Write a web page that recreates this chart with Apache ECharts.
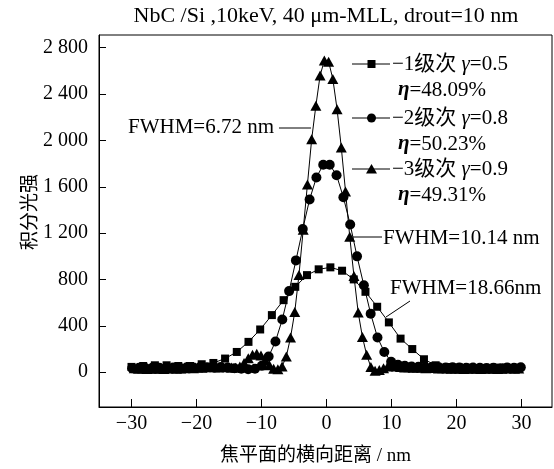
<!DOCTYPE html>
<html>
<head>
<meta charset="utf-8">
<script src="https://cdn.jsdelivr.net/npm/echarts@6/dist/echarts.min.js"></script>
<style>
  html, body { margin: 0; padding: 0; background: #fff; }
  #chart { width: 554px; height: 469px; }
</style>
</head>
<body>
<div id="chart"></div>
<script>
// -1 order (squares)
const sqX = [-30, -28.2, -26.4, -24.6, -22.8, -21, -19.2, -17.4, -15.6, -13.8, -12, -10.2, -8.4, -6.6, -4.8, -3, -1.2,
  0.6, 2.4, 4.2, 6, 7.8, 9.6, 11.4, 13.2, 15, 16.8, 18.6, 20.4, 22.2, 24, 25.8, 27.6, 29.4]
const sqY = [46, 54, 60, 60, 54, 54, 69, 80, 118, 175, 262, 369, 493, 622, 737, 838, 888,
  905, 876, 801, 694, 565, 430, 290, 200, 112, 60, 45, 42, 40, 38, 40, 42, 40]

// -2 order (circles)
const ciX = [-29.9, -28.85, -27.8, -26.75, -25.7, -24.65, -23.6, -22.55, -21.5, -20.45, -19.4, -18.35, -17.3, -16.25,
  -15.2, -14.15, -13.1, -12.05, -11, -9.95, -8.9, -7.85, -6.8, -5.75, -4.7, -3.65, -2.6, -1.55, -0.5,
  0.5, 1.55, 2.6, 3.65, 4.7, 5.75, 6.8, 7.85, 8.9, 9.95, 11, 12.05, 13.1, 14.15, 15.2, 16.25, 17.3, 18.35,
  19.4, 20.45, 21.5, 22.55, 23.6, 24.65, 25.7, 26.75, 27.8, 28.85, 29.9]
const ciY = [35, 38, 35, 40, 38, 36, 40, 38, 42, 40, 45, 42, 40, 45,
  40, 35, 30, 25, 30, 55, 135, 265, 455, 700, 965, 1235, 1490, 1680, 1790,
  1790, 1700, 1510, 1275, 1000, 750, 505, 300, 175, 90, 65, 55, 50, 48, 45, 45, 42, 40,
  42, 40, 38, 40, 38, 36, 38, 35, 40, 38, 42]

// -3 order (triangles)
const trX = [-29.58, -28.93, -28.28, -27.63, -26.98, -26.33, -25.68, -25.03, -24.38, -23.73, -23.08, -22.43,
  -21.78, -21.13, -20.48, -19.83, -19.18, -18.53, -17.88, -17.23, -16.58, -15.93, -15.28, -14.63,
  -13.98, -13.33, -12.68, -12.03, -11.38, -10.73, -10.08, -9.43, -8.78, -8.13, -7.48, -6.83,
  -6.18, -5.53, -4.88, -4.23, -3.58, -2.93, -2.28, -1.63, -0.98, -0.33,
  0.33, 0.98, 1.63, 2.28, 2.93, 3.58, 4.23, 4.88, 5.53, 6.18, 6.83, 7.48,
  8.13, 8.78, 9.43, 10.08, 10.73, 11.38, 12.03, 12.68, 13.33, 13.98,
  14.63, 15.28, 15.93, 16.58, 17.23, 17.88, 18.53, 19.18, 19.83, 20.48, 21.13, 21.78,
  22.43, 23.08, 23.73, 24.38, 25.03, 25.68, 26.33, 26.98, 27.63, 28.28, 28.93, 29.58]
const trY = [35, 30, 32, 28, 30, 33, 30, 28, 32, 35, 30, 33,
  35, 38, 35, 40, 38, 42, 45, 42, 40, 45, 42, 40,
  38, 50, 80, 120, 150, 160, 145, 105, 60, 30, 25, 50,
  135, 300, 520, 840, 1230, 1620, 2010, 2300, 2560, 2690,
  2680, 2530, 2270, 1940, 1560, 1170, 830, 515, 305, 150, 45, 12,
  20, 35, 50, 55, 50, 45, 40, 42, 38, 40,
  38, 35, 40, 36, 33, 35, 32, 30, 33, 30, 28, 30,
  32, 30, 28, 30, 33, 30, 28, 30, 32, 35, 30, 33]

const xTicks = [-30, -20, -10, 0, 10, 20, 30]
const yTicks = [0, 400, 800, 1200, 1600, 2000, 2400, 2800]

const legendRows = [
  { name: '−1级次', gamma: '0.5', eta: '48.09%' },
  { name: '−2级次', gamma: '0.8', eta: '50.23%' },
  { name: '−3级次', gamma: '0.9', eta: '49.31%' },
]

const serif = '"Liberation Serif", "Noto Sans CJK SC", serif'
const zip = (xs, ys) => xs.map((x, i) => [x, ys[i]])

const fmtY = (v) => v >= 1000 ? Math.floor(v / 1000) + ' ' + String(v % 1000).padStart(3, '0') : String(v)
const fmtX = (v) => String(v).replace('-', '−')

const lineSeries = (data, symbol, size) => ({
  type: 'line',
  data,
  symbol,
  symbolSize: size,
  showAllSymbol: true,
  lineStyle: { color: '#000', width: 1 },
  itemStyle: { color: '#000' },
  animation: false,
})

// legend + annotations drawn as graphics
const legendY = [64, 118, 169]
const legendMarks = [
  { type: 'rect', shape: { x: 367.5, y: 60, width: 8, height: 8 } },
  { type: 'circle', shape: { cx: 371.5, cy: 118, r: 4.5 } },
  { type: 'polygon', shape: { points: [[371.5, 164], [366, 173.5], [377, 173.5]] } },
]
const graphics = [
  {
    type: 'text', x: 326, y: 16,
    style: { text: 'NbC /Si ,10keV, 40 μm-MLL, drout=10 nm', font: '22px ' + serif, fill: '#000', align: 'center', verticalAlign: 'middle' },
  },
]
legendRows.forEach((r, i) => {
  const y = legendY[i]
  graphics.push({ type: 'line', shape: { x1: 352, y1: y, x2: 390, y2: y }, style: { stroke: '#000', lineWidth: 1 } })
  graphics.push(Object.assign({}, legendMarks[i], { style: { fill: '#000' } }))
  graphics.push({
    type: 'text', x: 392, y: y,
    style: {
      text: '{a|' + r.name + ' }{g|γ}{a|=' + r.gamma + '}',
      verticalAlign: 'middle',
      rich: {
        a: { font: '21px ' + serif, fill: '#000' },
        g: { font: 'italic 21px ' + serif, fill: '#000' },
      },
    },
  })
  graphics.push({
    type: 'text', x: 398, y: y + 26,
    style: {
      text: '{g|η}{a|=' + r.eta + '}',
      verticalAlign: 'middle',
      rich: {
        a: { font: '21px ' + serif, fill: '#000' },
        g: { font: 'italic bold 21px ' + serif, fill: '#000' },
      },
    },
  })
})
const notes = [
  { text: 'FWHM=6.72 nm', x: 128, y: 127, line: [279, 128, 311, 128] },
  { text: 'FWHM=10.14 nm', x: 383, y: 238, line: [353, 237, 382, 237] },
  { text: 'FWHM=18.66nm', x: 390, y: 288, line: [386, 317, 410, 301] },
]
notes.forEach((n) => {
  graphics.push({ type: 'text', x: n.x, y: n.y, style: { text: n.text, font: '21px ' + serif, fill: '#000', verticalAlign: 'middle' } })
  graphics.push({ type: 'line', shape: { x1: n.line[0], y1: n.line[1], x2: n.line[2], y2: n.line[3] }, style: { stroke: '#000', lineWidth: 1 } })
})

const chart = echarts.init(document.getElementById('chart'), null, { renderer: 'canvas' })
chart.setOption({
  backgroundColor: '#fff',
  animation: false,
  grid: {
    left: 99, right: 2, top: 35, bottom: 62,
    containLabel: false, outerBoundsMode: 'none',
    show: true, borderColor: '#000', borderWidth: 1,
  },
  xAxis: {
    type: 'value',
    min: -35,
    max: 34.7,
    name: '焦平面的横向距离 / nm',
    nameLocation: 'middle',
    nameGap: 40,
    nameTextStyle: { fontFamily: serif, fontSize: 19, color: '#000', padding: [0, 20, 0, 0] },
    axisLine: { onZero: false, lineStyle: { color: '#000', width: 1 } },
    axisTick: { inside: true, length: 8, customValues: xTicks, lineStyle: { color: '#000' } },
    axisLabel: { customValues: xTicks, formatter: fmtX, fontFamily: serif, fontSize: 20, color: '#000', margin: 7 },
    splitLine: { show: false },
  },
  yAxis: {
    type: 'value',
    min: -300,
    max: 2910,
    name: '积分光强',
    nameLocation: 'middle',
    nameGap: 58,
    nameMoveOverlap: false,
    nameTextStyle: { fontFamily: serif, fontSize: 19, color: '#000', padding: [0, 0, 0, 18] },
    axisLine: { onZero: false, lineStyle: { color: '#000', width: 1 } },
    axisTick: { inside: true, length: 7, customValues: yTicks, lineStyle: { color: '#000' } },
    axisLabel: { customValues: yTicks, formatter: fmtY, fontFamily: serif, fontSize: 20, color: '#000', margin: 11 },
    splitLine: { show: false },
  },
  series: [
    lineSeries(zip(sqX, sqY), 'rect', 8),
    lineSeries(zip(ciX, ciY), 'circle', 10),
    lineSeries(zip(trX, trY), 'triangle', [11, 10]),
  ],
  graphic: graphics,
})
</script>
</body>
</html>
